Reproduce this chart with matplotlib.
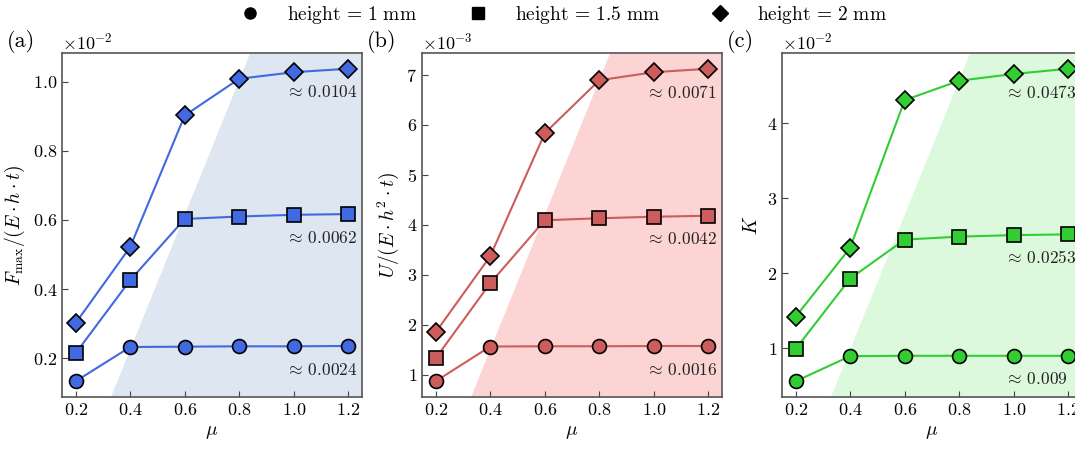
import numpy as np
import matplotlib
matplotlib.use("Agg")
import matplotlib.pyplot as plt
from matplotlib.lines import Line2D

plt.rcParams["font.family"] = "serif"
plt.rcParams["font.serif"] = ["cmr10", "DejaVu Serif"]
plt.rcParams["mathtext.fontset"] = "cm"
plt.rcParams["axes.unicode_minus"] = False
plt.rcParams["axes.formatter.use_mathtext"] = True

mu = [0.2, 0.4, 0.6, 0.8, 1.0, 1.2]

# panel (a): F_max / (E h t)
force_h1 = [0.00134, 0.00233, 0.00234, 0.00235, 0.00235, 0.00236]
force_h15 = [0.00215, 0.00426, 0.00603, 0.00610, 0.00615, 0.00617]
force_h2 = [0.00302, 0.00522, 0.00902, 0.01008, 0.01027, 0.01037]

# panel (b): U / (E h^2 t)
energy_h1 = [0.00087, 0.001565, 0.00157, 0.00157, 0.001575, 0.001575]
energy_h15 = [0.00133, 0.00283, 0.00409, 0.00413, 0.00416, 0.00418]
energy_h2 = [0.00185, 0.00337, 0.00583, 0.00689, 0.00705, 0.00712]

# panel (c): K
stiff_h1 = [0.0056, 0.00895, 0.0090, 0.0090, 0.0090, 0.0090]
stiff_h15 = [0.0099, 0.0193, 0.0245, 0.0249, 0.0251, 0.0252]
stiff_h2 = [0.0142, 0.0234, 0.0431, 0.0457, 0.0466, 0.0473]

labels_a = [r"$\approx\:0.0024$", r"$\approx\:0.0062$", r"$\approx\:0.0104$"]
labels_b = [r"$\approx\:0.0016$", r"$\approx\:0.0042$", r"$\approx\:0.0071$"]
labels_c = [r"$\approx\:0.009$", r"$\approx\:0.0253$", r"$\approx\:0.0473$"]

markers = ["o", "s", "D"]
msizes = [10, 10, 9]

# shaded region boundary (mu at bottom, mu at top of axes)
shade_mu = [0.33, 0.84]

fig = plt.figure(figsize=(10.75, 4.5), dpi=100)
w, h, b = 0.279, 0.764, 0.118
lefts = [0.0577, 0.3926, 0.7274]

panels = [
    ([force_h1, force_h15, force_h2], labels_a, "#4169E1", "#B0C4DE", 0.42,
     r"$F_{\max}/(E\cdot h\cdot t)$", "(a)"),
    ([energy_h1, energy_h15, energy_h2], labels_b, "#CD5C5C", "#F99A9A", 0.42,
     r"$U/(E\cdot h^2\cdot t)$", "(b)"),
    ([stiff_h1, stiff_h15, stiff_h2], labels_c, "#32CD32", "#90EE90", 0.3,
     r"$K$", "(c)"),
]

for left, (series, notes, col, fcol, alpha, ylab, tag) in zip(lefts, panels):
    ax = fig.add_axes([left, b, w, h])
    for vals, mk, ms, note in zip(series, markers, msizes, notes):
        ax.plot(mu, vals, color=col, lw=1.5, marker=mk, ms=ms,
                mfc=col, mec="black", mew=1.2, zorder=3)
        ax.annotate(note, xy=(0.742, vals[-1]),
                    xycoords=("axes fraction", "data"), xytext=(0, -17),
                    textcoords="offset points", ha="left", va="center",
                    fontsize=12.5, color="#222222", zorder=4)
    ax.fill([shade_mu[0], shade_mu[1], 1.4, 1.4], [0, 1, 1, 0],
            transform=ax.get_xaxis_transform(), color=fcol, alpha=alpha,
            lw=0, zorder=1)
    ax.set_xlim(0.15, 1.25)
    ax.set_xticks(mu)
    ax.ticklabel_format(style="sci", axis="y", scilimits=(0, 0))
    ax.yaxis.get_offset_text().set_fontsize(13)
    ax.tick_params(direction="in", labelsize=13, length=4, color="#444444")
    for s in ax.spines.values():
        s.set_color("#555555")
        s.set_linewidth(1.2)
    ax.set_xlabel(r"$\mu$", fontsize=14)
    ax.set_ylabel(ylab, fontsize=14)
    ax.text(-0.185, 1.0, tag, transform=ax.transAxes, fontsize=16,
            ha="left", va="bottom")

handles = [Line2D([], [], ls="none", marker=m, color="black", ms=8)
           for m in markers]
fig.legend(handles, [r"$\mathrm{height}\,=\,1\ \mathrm{mm}$",
                     r"$\mathrm{height}\,=\,1.5\ \mathrm{mm}$",
                     r"$\mathrm{height}\,=\,2\ \mathrm{mm}$"],
           loc="upper center", bbox_to_anchor=(0.52, 1.03), ncol=3,
           frameon=False, fontsize=14, columnspacing=2.1,
           handletextpad=0.9, handlelength=2.0)

fig.savefig("out.png", dpi=100)
